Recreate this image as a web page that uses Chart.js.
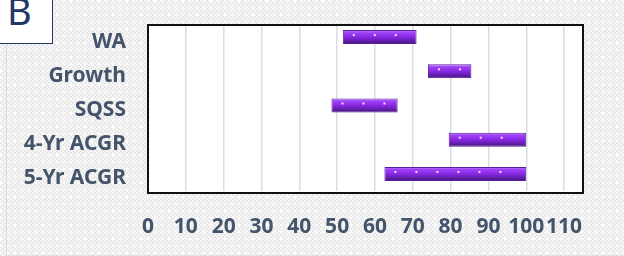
<!DOCTYPE html>
<html>
<head>
<meta charset="utf-8">
<script src="https://cdn.jsdelivr.net/npm/chart.js@4.4.1/dist/chart.umd.min.js"></script>
<style>
  html, body { margin: 0; padding: 0; }
  body {
    width: 624px; height: 256px; overflow: hidden; position: relative;
    background-color: #f1f1f1;
    background-image:
      radial-gradient(circle at 1px 1px, #ffffff 0.8px, transparent 1.2px),
      conic-gradient(#e9e9e9 25%, #f6f6f6 0 50%, #e9e9e9 0 75%, #f6f6f6 0);
    background-size: 7px 7px, 4px 4px;
  }
  #panel {
    position: absolute; left: 6px; top: 0; width: 618px; height: 255px;
    border-left: 1px solid #d6dbe2; border-bottom: 1px solid #e0e3e8;
  }
  #tag {
    position: absolute; left: -1px; top: -1px; width: 54px; height: 45px;
    background: #fff; border: 1px solid #1f3864; box-sizing: border-box;
    font-family: "Noto Sans", sans-serif; font-size: 38px; color: #1f3864;
    line-height: 20px; padding-left: 7px; overflow: hidden;
  }
  #wrap { position: absolute; left: 0; top: 0; width: 624px; height: 256px; }
</style>
</head>
<body>
<div id="panel"></div>
<div id="wrap"><canvas id="chart-grafico-1" width="624" height="256"></canvas></div>
<div id="tag">B</div>
<script>
const categorias = ['WA', 'Growth', 'SQSS', '4-Yr ACGR', '5-Yr ACGR'];
const inicios = [51.5, 74, 48.5, 79.5, 62.5];
const finales = [71, 85.5, 66, 100, 100];
const ticksX = [0, 10, 20, 30, 40, 50, 60, 70, 80, 90, 100, 110];

const colorTexto = '#44546a';
const cajaTop = 25, cajaBottom = 193;

const rangos = categorias.map((c, i) => [inicios[i], finales[i]]);

const relleno = (context) => {
  const { chart, dataIndex } = context;
  const escala = chart.scales && chart.scales.y;
  if (!escala || dataIndex === undefined || !isFinite(escala.getPixelForValue(dataIndex))) return '#8c2ee6';
  const centro = escala.getPixelForValue(dataIndex);
  const h = 14;
  const top = centro - h / 2;
  const g = chart.ctx.createLinearGradient(0, top, 0, top + h);
  g.addColorStop(0, '#bf80ff');
  g.addColorStop(0.2, '#9d40f5');
  g.addColorStop(0.45, '#8e2aea');
  g.addColorStop(0.72, '#6a20b8');
  g.addColorStop(1, '#421372');
  return g;
};

const marco = {
  id: 'marco',
  beforeDraw(chart) {
    const { ctx, chartArea: a } = chart;
    ctx.save();
    ctx.fillStyle = '#ffffff';
    ctx.fillRect(a.left, cajaTop, a.right - a.left, cajaBottom - cajaTop);
    // recorta la rejilla para que no salga de la caja
    ctx.beginPath();
    ctx.rect(0, 0, chart.width, chart.height);
    ctx.rect(a.left - 1, 0, a.right - a.left + 2, cajaTop);
    ctx.clip('evenodd');
  },
  beforeDatasetsDraw(chart) {
    chart.ctx.restore();
  },
  afterDatasetsDraw(chart) {
    const { ctx, chartArea: a } = chart;
    ctx.save();
    // puntitos sobre las barras
    chart.getDatasetMeta(0).data.forEach((bar) => {
      const x0 = Math.min(bar.x, bar.base);
      const x1 = Math.max(bar.x, bar.base);
      ctx.fillStyle = 'rgba(255,255,255,0.85)';
      for (let x = x0 + 10; x < x1 - 6; x += 21) {
        ctx.fillRect(x, bar.y - 3, 2, 2);
      }
    });
    ctx.strokeStyle = '#111111';
    ctx.lineWidth = 2;
    ctx.strokeRect(a.left, cajaTop, a.right - a.left, cajaBottom - cajaTop);
    ctx.restore();
  }
};

const ctx = document.getElementById('chart-grafico-1');
new Chart(ctx, {
  type: 'bar',
  data: {
    labels: categorias,
    datasets: [
      {
        label: 'Rango',
        data: rangos,
        backgroundColor: relleno,
        borderColor: '#5a1d9c',
        borderWidth: 1,
        borderSkipped: false,
        barPercentage: 0.82,
        categoryPercentage: 0.5
      }
    ]
  },
  plugins: [marco],
  options: {
    indexAxis: 'y',
    responsive: false,
    animation: false,
    layout: { padding: { top: 20, right: 41, left: 0, bottom: 0 } },
    plugins: { legend: { display: false }, tooltip: { enabled: false } },
    scales: {
      x: {
        min: 0,
        max: 115,
        afterBuildTicks: (scale) => { scale.ticks = ticksX.map(v => ({ value: v })); },
        afterFit: (scale) => { scale.height = 65; scale.paddingLeft = 0; scale.paddingRight = 0; },
        grid: { color: '#d8dee6', lineWidth: 1.5, drawTicks: false },
        border: { display: false },
        ticks: {
          autoSkip: false, maxRotation: 0, padding: 23,
          color: colorTexto,
          font: { family: 'Noto Sans', size: 21, weight: 'bold' }
        }
      },
      y: {
        afterFit: (scale) => { scale.width = 148; scale.paddingTop = 0; scale.paddingBottom = 0; },
        grid: { display: false, drawTicks: false },
        border: { display: false },
        ticks: {
          padding: 22,
          labelOffset: 4.5,
          color: colorTexto,
          font: { family: 'Noto Sans', size: 21, weight: 'bold' }
        }
      }
    }
  }
});
</script>
</body>
</html>
